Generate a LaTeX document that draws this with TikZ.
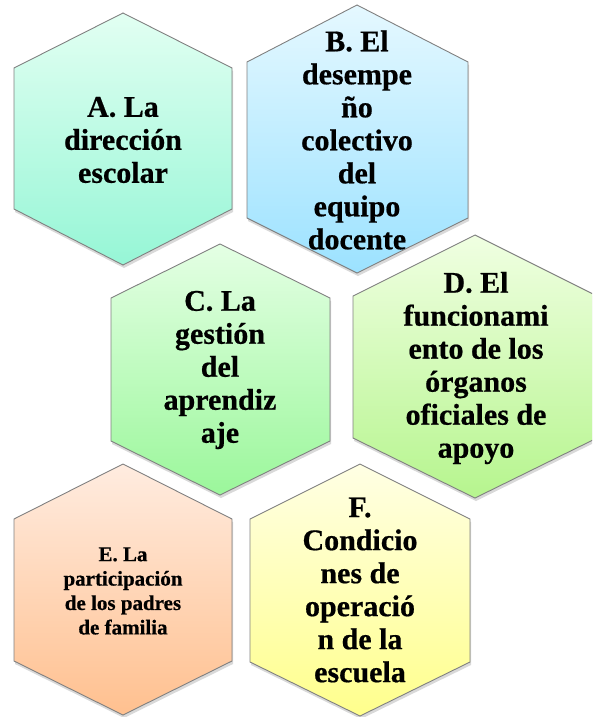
\documentclass[tikz,border=0pt]{standalone}
\usepackage{fontspec}
\setmainfont{Liberation Serif}[BoldFont={Liberation Serif Bold}, BoldFeatures={FakeBold=0.6}]
\usetikzlibrary{shadows}

\definecolor{aTop}{RGB}{226,255,242}
\definecolor{aBot}{RGB}{150,246,214}
\definecolor{bTop}{RGB}{229,248,255}
\definecolor{bBot}{RGB}{156,226,255}
\definecolor{cTop}{RGB}{228,255,228}
\definecolor{cBot}{RGB}{155,247,155}
\definecolor{dTop}{RGB}{240,255,226}
\definecolor{dBot}{RGB}{182,245,142}
\definecolor{eTop}{RGB}{255,236,224}
\definecolor{eBot}{RGB}{255,192,143}
\definecolor{fTop}{RGB}{255,255,228}
\definecolor{fBot}{RGB}{255,255,140}

\tikzset{
  hexbox/.style={draw=black!50, line width=0.9pt,
    drop shadow={shadow xshift=1pt, shadow yshift=-3pt, opacity=0.3}},
  hextext/.style={align=center, inner sep=0pt,
    font=\fontsize{30}{33}\selectfont\bfseries},
}

\begin{document}
\begin{tikzpicture}[x=1pt, y=-1pt]

    % 画布大小
    \useasboundingbox (0,0) rectangle (592,717);
    \clip (0,0) rectangle (592,717);

    % 画六边形
    \draw[hexbox, top color=aTop, bottom color=aBot]
      (14,68) -- (123,13) -- (232,68) -- (232,209) -- (123,265) -- (14,209) -- cycle;
    \draw[hexbox, top color=bTop, bottom color=bBot]
      (247,62) -- (357,5) -- (468,62) -- (468,218) -- (357,273) -- (247,218) -- cycle;
    \draw[hexbox, top color=cTop, bottom color=cBot]
      (111,298) -- (220,244) -- (330,298) -- (330,441) -- (220,495) -- (111,441) -- cycle;
    \draw[hexbox, top color=dTop, bottom color=dBot]
      (353,296) -- (475,235) -- (597,296) -- (597,438) -- (475,498) -- (353,438) -- cycle;
    \draw[hexbox, top color=eTop, bottom color=eBot]
      (14,519) -- (123,464) -- (232,519) -- (232,661) -- (123,715) -- (14,661) -- cycle;
    \draw[hexbox, top color=fTop, bottom color=fBot]
      (250,519) -- (360,464) -- (470,519) -- (470,662) -- (360,716) -- (250,662) -- cycle;

    % 插入文字
    \node[hextext] (direccion) at (123,140) {A. La\\dirección\\escolar};
    \node[hextext] (docentes) at (357,140) {B. El\\desempe\\ño\\colectivo\\del\\equipo\\docente};
    \node[hextext] (aprendizaje) at (220,370) {C. La\\gestión\\del\\aprendiz\\aje};
    \node[hextext] (organos) at (476,368) {D. El\\funcionami\\ento de los\\órganos\\oficiales de\\apoyo};
    \node[hextext, font=\fontsize{21}{24.4}\selectfont\bfseries] (padres) at (123,591)
      {E. La\\participación\\de los padres\\de familia};
    \node[hextext] (escuela) at (360,590) {F.\\Condicio\\nes de\\operació\\n de la\\escuela};

  \end{tikzpicture}
\end{document}
